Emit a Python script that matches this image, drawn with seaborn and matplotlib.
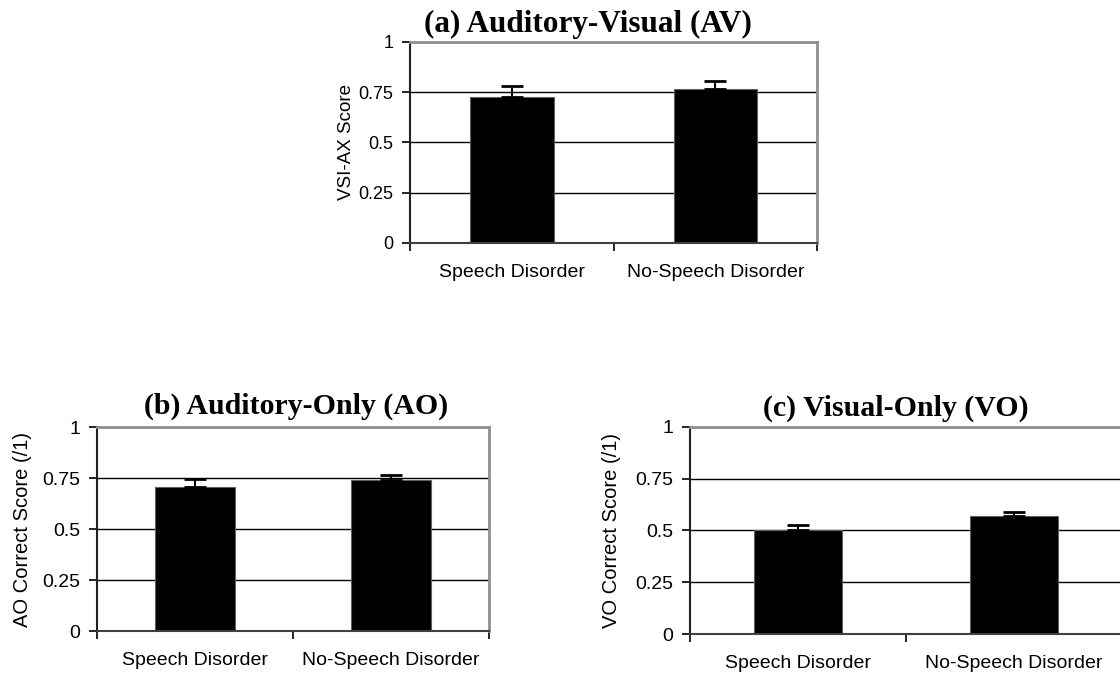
import matplotlib
matplotlib.use("Agg")
import matplotlib.pyplot as plt
import seaborn as sns
import pandas as pd

# Data
groups = ["Speech Disorder", "No-Speech Disorder"]
av_scores = [0.726, 0.765]
av_err = [0.057, 0.040]
ao_scores = [0.707, 0.740]
ao_err = [0.038, 0.023]
vo_scores = [0.503, 0.571]
vo_err = [0.024, 0.018]

titles = ["(a) Auditory-Visual (AV)", "(b) Auditory-Only (AO)", "(c) Visual-Only (VO)"]
ylabels = ["VSI-AX Score", "AO Correct Score (/1)", "VO Correct Score (/1)"]
yticks = [0, 0.25, 0.5, 0.75, 1]
ytick_labels = ["0", "0.25", "0.5", "0.75", "1"]

sns.set_style("white")
plt.rcParams["font.family"] = ["Liberation Sans", "DejaVu Sans"]
# seaborn greys out text, the original is plain black
plt.rcParams.update({"text.color": "black", "axes.labelcolor": "black",
                     "xtick.color": "black", "ytick.color": "black"})

fig = plt.figure(figsize=(11.2, 6.77), dpi=100)

# axes rectangles (figure fraction) and title anchors
rects = [
    [0.3661, 0.6411, 0.3634, 0.2969],
    [0.0866, 0.0679, 0.3500, 0.3013],
    [0.6161, 0.0635, 0.3857, 0.3058],
]
title_pos = [(0.525, 0.953), (0.264, 0.389), (0.800, 0.386)]
title_size = [22.5, 21.5, 21.5]
ytick_size = [13, 14, 14]
ylabel_x = [-0.135, -0.165, -0.160]

series = [(av_scores, av_err), (ao_scores, ao_err), (vo_scores, vo_err)]

for i, (vals, errs) in enumerate(series):
    ax = fig.add_axes(rects[i])
    df = pd.DataFrame({"group": groups, "score": vals})
    ax.set_axisbelow(True)
    ax.yaxis.grid(True, color="black", linewidth=1.0)
    sns.barplot(data=df, x="group", y="score", color="black", width=0.41,
                edgecolor="#606060", linewidth=0.8, saturation=1, ax=ax)
    ax.errorbar(range(len(groups)), vals, yerr=[[0] * len(errs), errs],
                fmt="none", ecolor="black", elinewidth=1.5, capsize=8,
                capthick=2, zorder=5)

    ax.set_ylim(0, 1)
    ax.set_xlim(-0.5, len(groups) - 0.5)
    ax.set_yticks(yticks)
    ax.set_yticklabels(ytick_labels)
    ax.set_xticks([-0.5, 0.5, 1.5], minor=True)
    ax.tick_params(axis="x", which="major", length=0, pad=15, labelsize=14)
    ax.tick_params(axis="x", which="minor", length=6, width=1.2, color="black",
                   direction="out", bottom=True)
    ax.tick_params(axis="y", length=6, width=1.2, color="black", direction="out",
                   left=True, labelsize=ytick_size[i], pad=6)

    ax.set_xlabel("")
    ax.set_ylabel(ylabels[i], fontsize=14.5 if i else 13.5)
    ax.yaxis.set_label_coords(ylabel_x[i], 0.5)

    for side in ["top", "right"]:
        ax.spines[side].set_visible(True)
        ax.spines[side].set_color("#909090")
        ax.spines[side].set_linewidth(2)
    ax.spines["left"].set_color("#202020")
    ax.spines["left"].set_linewidth(1.5)
    ax.spines["bottom"].set_color("#404040")
    ax.spines["bottom"].set_linewidth(1.5)

    fig.text(title_pos[i][0], title_pos[i][1], titles[i], ha="center",
             va="baseline", fontsize=title_size[i], fontweight="bold",
             color="black", family=["Liberation Serif", "DejaVu Serif"])

fig.savefig("out.png", dpi=100)
